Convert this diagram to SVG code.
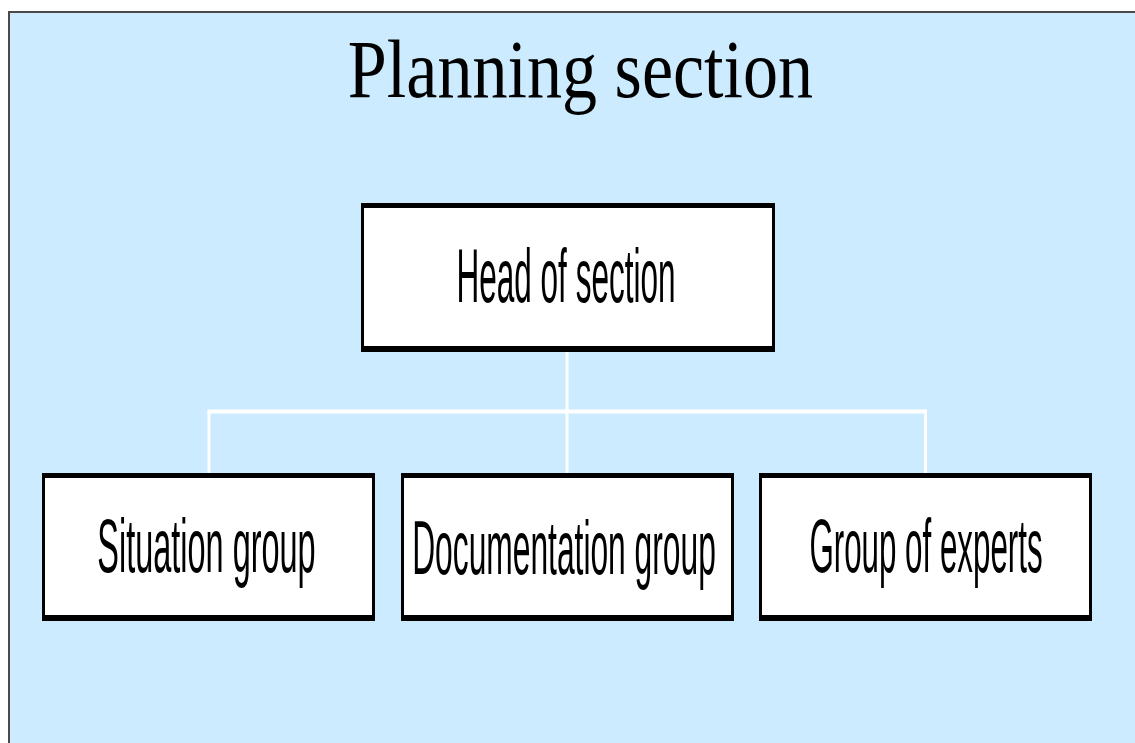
<svg xmlns="http://www.w3.org/2000/svg" width="1135" height="743" viewBox="0 0 1135 743">
  <style>
    .frame { fill: #ccebff; stroke: #4a4a4a; stroke-width: 2; }
    .title { font-family: "Liberation Serif", "Times New Roman", serif; font-size: 82px; fill: #000; text-anchor: middle; }
    .box-edge { fill: #000; }
    .box-face { fill: #fff; }
    .label { font-family: "Liberation Sans", Arial, sans-serif; font-size: 76px; fill: #000; text-anchor: middle; }
    .wire { stroke: #fff; fill: none; }
  </style>

  <!-- page background -->
  <rect x="0" y="0" width="1135" height="743" fill="#fff"/>
  <rect class="frame" x="9" y="12" width="1140" height="740"/>

  <!-- heading -->
  <text class="title" transform="translate(580.5 97) scale(0.855 1)">Planning section</text>

  <!-- connectors -->
  <g id="connectors">
    <line class="wire" stroke-width="3" x1="567" y1="352" x2="567" y2="473"/>
    <line class="wire" stroke-width="4" x1="207.5" y1="411.5" x2="927" y2="411.5"/>
    <line class="wire" stroke-width="3" x1="209" y1="411.5" x2="209" y2="473"/>
    <line class="wire" stroke-width="3" x1="925.5" y1="411.5" x2="925.5" y2="473"/>
  </g>

  <!-- head box -->
  <g id="head">
    <rect class="box-edge" x="361" y="203" width="414" height="149"/>
    <rect class="box-face" x="364" y="208" width="408" height="138"/>
    <text class="label" transform="translate(566 302) scale(0.415 1)">Head of section</text>
  </g>

  <!-- subordinate groups -->
  <g id="situation">
    <rect class="box-edge" x="42" y="473" width="333" height="148"/>
    <rect class="box-face" x="45" y="478" width="327" height="137"/>
    <text class="label" transform="translate(206.5 572) scale(0.427 1)">Situation group</text>
  </g>

  <g id="documentation">
    <rect class="box-edge" x="401" y="473" width="333" height="148"/>
    <rect class="box-face" x="404" y="478" width="327" height="137"/>
    <text class="label" transform="translate(564 574) scale(0.418 1)">Documentation group</text>
  </g>

  <g id="experts">
    <rect class="box-edge" x="759" y="473" width="333" height="148"/>
    <rect class="box-face" x="762" y="478" width="327" height="137"/>
    <text class="label" transform="translate(926 572) scale(0.412 1)">Group of experts</text>
  </g>
</svg>
